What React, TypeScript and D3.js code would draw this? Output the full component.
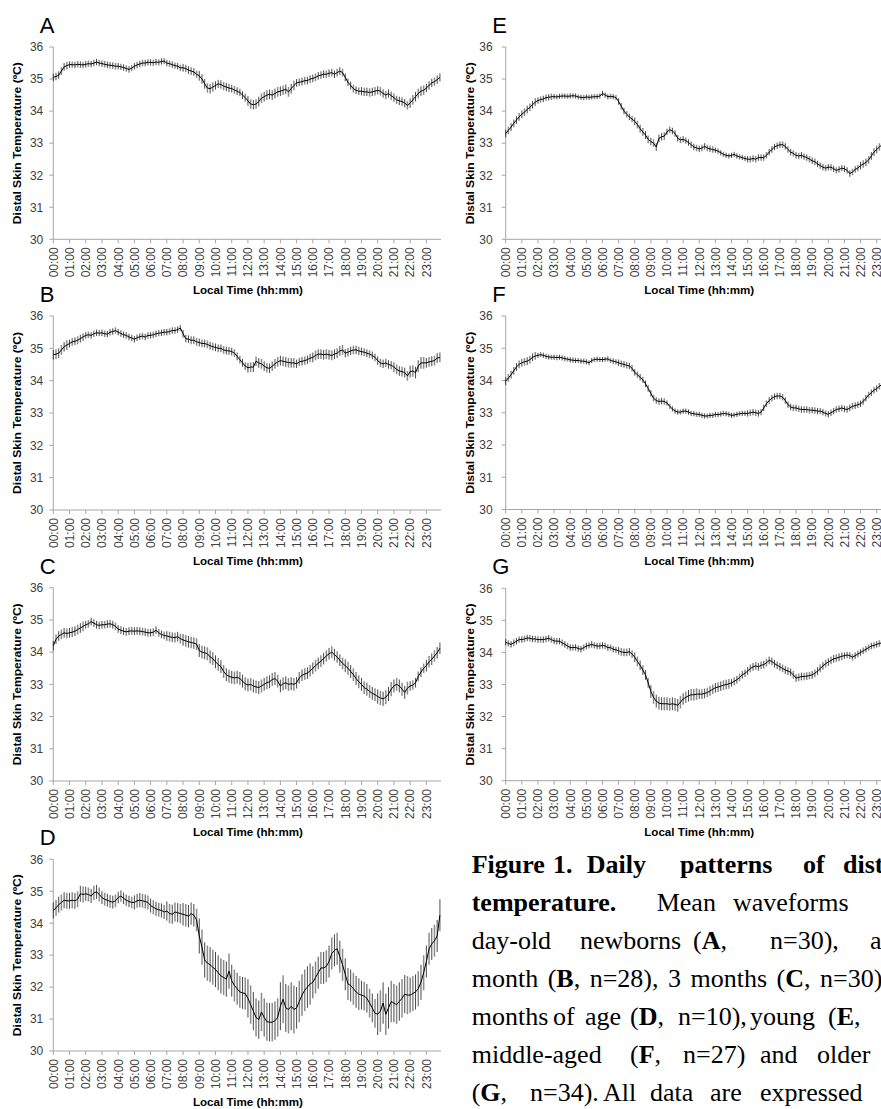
import React from 'react';
import * as d3 from 'd3';

// ---------- data ----------
const hourTickLabels = [
  '00:00','01:00','02:00','03:00','04:00','05:00','06:00','07:00','08:00','09:00','10:00','11:00',
  '12:00','13:00','14:00','15:00','16:00','17:00','18:00','19:00','20:00','21:00','22:00','23:00'
];
const yTickValues = [30, 31, 32, 33, 34, 35, 36];
const panelLetters = ['A', 'B', 'C', 'D', 'E', 'F', 'G'];
const yAxisTitle = 'Distal Skin Temperature (ºC)';
const xAxisTitle = 'Local Time (hh:mm)';

// mean temperature every 10 minutes (144 values per panel)
const meanA = [
  35.05,35.08,35.12,35.25,35.38,35.42, 35.45,35.45,35.44,35.46,35.45,35.44,
  35.46,35.48,35.47,35.50,35.53,35.50, 35.48,35.46,35.44,35.43,35.42,35.40,
  35.40,35.38,35.36,35.33,35.30,35.34, 35.40,35.44,35.47,35.50,35.50,35.52,
  35.52,35.51,35.53,35.52,35.55,35.56, 35.50,35.48,35.45,35.42,35.40,35.35,
  35.35,35.33,35.28,35.25,35.22,35.15, 35.10,35.00,34.85,34.72,34.70,34.75,
  34.80,34.85,34.83,34.78,34.75,34.72, 34.70,34.66,34.62,34.58,34.50,34.42,
  34.32,34.22,34.20,34.22,34.30,34.40, 34.45,34.50,34.52,34.50,34.55,34.60,
  34.62,34.65,34.68,34.60,34.70,34.80, 34.88,34.90,34.92,34.95,34.95,35.00,
  35.02,35.05,35.10,35.12,35.15,35.15, 35.18,35.20,35.15,35.20,35.25,35.20,
  35.05,34.90,34.80,34.70,34.65,34.62, 34.62,34.60,34.60,34.58,34.60,34.62,
  34.65,34.62,34.55,34.50,34.55,34.48, 34.42,34.35,34.32,34.30,34.25,34.18,
  34.25,34.35,34.45,34.55,34.62,34.65, 34.72,34.80,34.88,34.92,34.98,35.05
];
const meanB = [
  34.80,34.82,34.85,34.95,35.05,35.10, 35.15,35.20,35.22,35.25,35.30,35.35,
  35.40,35.42,35.40,35.45,35.48,35.47, 35.48,35.45,35.44,35.50,35.52,35.55,
  35.50,35.46,35.42,35.40,35.35,35.32, 35.28,35.33,35.36,35.38,35.35,35.40,
  35.40,35.42,35.45,35.47,35.48,35.50, 35.50,35.52,35.55,35.55,35.58,35.63,
  35.45,35.30,35.28,35.25,35.25,35.20, 35.18,35.15,35.15,35.12,35.08,35.05,
  35.03,35.00,35.00,34.95,34.93,34.92, 34.90,34.85,34.75,34.65,34.55,34.45,
  34.40,34.42,34.42,34.60,34.55,34.52, 34.45,34.40,34.38,34.45,34.52,34.58,
  34.62,34.60,34.58,34.56,34.55,34.55, 34.52,34.58,34.60,34.62,34.65,34.70,
  34.72,34.78,34.82,34.82,34.80,34.82, 34.80,34.78,34.82,34.85,34.92,34.95,
  34.85,34.88,34.92,34.95,34.95,34.92, 34.90,34.88,34.85,34.82,34.78,34.72,
  34.62,34.55,34.52,34.55,34.50,34.48, 34.42,34.35,34.30,34.28,34.25,34.15,
  34.28,34.30,34.25,34.45,34.55,34.55, 34.55,34.58,34.60,34.62,34.70,34.72
];
const meanC = [
  34.20,34.40,34.50,34.55,34.60,34.58, 34.60,34.62,34.65,34.70,34.75,34.80,
  34.85,34.88,34.95,34.90,34.85,34.83, 34.85,34.85,34.87,34.88,34.85,34.80,
  34.72,34.68,34.65,34.63,34.65,34.66, 34.65,34.66,34.65,34.64,34.62,34.60,
  34.60,34.62,34.68,34.60,34.55,34.52, 34.50,34.48,34.46,34.45,34.48,34.42,
  34.38,34.35,34.32,34.30,34.28,34.25, 34.05,34.00,33.98,33.95,33.85,33.80,
  33.70,33.62,33.55,33.40,33.30,33.25, 33.22,33.20,33.22,33.18,33.10,33.02,
  32.98,33.00,32.95,32.92,32.90,32.95, 33.00,33.05,33.08,33.15,33.18,33.10,
  32.95,33.02,33.05,33.00,33.02,33.00, 33.05,33.20,33.28,33.32,33.35,33.42,
  33.50,33.58,33.65,33.72,33.80,33.88, 33.95,34.00,33.92,33.85,33.75,33.65,
  33.58,33.50,33.40,33.30,33.18,33.08, 33.00,32.90,32.85,32.78,32.72,32.68,
  32.62,32.58,32.55,32.60,32.70,32.85, 32.95,33.00,32.95,32.85,32.75,32.88,
  32.95,32.98,33.05,33.25,33.38,33.50, 33.58,33.70,33.78,33.88,33.98,34.12
];
const meanD = [
  34.40,34.48,34.58,34.65,34.72,34.70, 34.70,34.72,34.70,34.75,34.92,34.90,
  34.92,34.90,34.85,34.95,34.98,34.90, 34.80,34.75,34.72,34.68,34.66,34.70,
  34.80,34.85,34.78,34.72,34.68,34.65, 34.65,34.70,34.72,34.70,34.68,34.65,
  34.55,34.50,34.45,34.42,34.40,34.35, 34.38,34.30,34.28,34.35,34.33,34.30,
  34.28,34.25,34.22,34.30,34.25,34.10, 33.60,33.25,32.85,32.75,32.70,32.62,
  32.55,32.45,32.35,32.30,32.25,32.50, 32.20,32.05,31.95,31.85,31.82,31.80,
  31.65,31.45,31.25,31.05,30.98,31.22, 31.05,30.92,30.90,30.90,30.95,31.05,
  31.40,31.62,31.35,31.30,31.40,31.30, 31.35,31.55,31.75,31.90,32.00,32.10,
  32.15,32.30,32.45,32.60,32.60,32.65, 32.80,33.05,33.15,33.20,32.95,32.70,
  32.40,32.10,32.05,31.95,31.85,31.78, 31.75,31.72,31.65,31.50,31.35,31.18,
  31.15,31.25,31.50,31.15,31.35,31.55, 31.50,31.45,31.55,31.65,31.78,31.75,
  31.75,31.80,31.85,31.95,32.15,32.45, 32.80,33.20,33.35,33.45,33.60,34.25
];
const meanE = [
  33.30,33.40,33.50,33.62,33.72,33.82, 33.90,33.97,34.05,34.12,34.20,34.28,
  34.33,34.36,34.38,34.42,34.43,34.45, 34.45,34.44,34.46,34.47,34.47,34.46,
  34.47,34.48,34.47,34.44,34.43,34.42, 34.44,34.43,34.44,34.45,34.45,34.47,
  34.55,34.50,34.45,34.46,34.45,34.42, 34.30,34.15,34.00,33.90,33.82,33.75,
  33.68,33.58,33.45,33.35,33.25,33.12, 33.05,33.00,32.88,33.15,33.20,33.22,
  33.35,33.42,33.38,33.30,33.15,33.10, 33.12,33.08,33.02,32.95,32.88,32.85,
  32.82,32.85,32.90,32.85,32.82,32.80, 32.78,32.75,32.70,32.65,32.62,32.60,
  32.62,32.65,32.60,32.57,32.55,32.52, 32.50,32.50,32.52,32.50,32.55,32.55,
  32.55,32.62,32.72,32.80,32.88,32.92, 32.95,32.95,32.90,32.80,32.72,32.68,
  32.62,32.60,32.62,32.58,32.55,32.50, 32.45,32.42,32.35,32.30,32.25,32.22,
  32.25,32.25,32.20,32.15,32.18,32.22, 32.20,32.15,32.05,32.10,32.18,32.22,
  32.30,32.35,32.40,32.48,32.60,32.72, 32.80,32.88,32.95,33.00,33.05,33.10
];
const meanF = [
  33.98,34.08,34.18,34.30,34.42,34.50, 34.55,34.58,34.60,34.65,34.72,34.76,
  34.78,34.80,34.78,34.75,34.73,34.72, 34.72,34.71,34.72,34.70,34.68,34.66,
  34.64,34.63,34.62,34.62,34.60,34.60, 34.58,34.55,34.62,34.65,34.66,34.65,
  34.65,34.66,34.67,34.62,34.60,34.58, 34.55,34.52,34.50,34.47,34.45,34.38,
  34.25,34.18,34.10,34.02,33.90,33.75, 33.60,33.45,33.38,33.35,33.36,33.35,
  33.30,33.20,33.12,33.05,33.02,33.02, 33.05,33.05,33.02,32.98,32.97,32.95,
  32.95,32.92,32.90,32.90,32.92,32.92, 32.95,32.94,32.96,32.98,32.97,32.95,
  32.92,32.93,32.95,32.97,32.98,32.98, 32.98,33.00,33.02,33.00,32.98,33.02,
  33.15,33.28,33.38,33.45,33.50,33.52, 33.52,33.48,33.38,33.25,33.18,33.15,
  33.15,33.12,33.10,33.10,33.10,33.08, 33.08,33.07,33.05,33.05,33.02,32.98,
  32.95,33.00,33.05,33.10,33.12,33.15, 33.12,33.10,33.15,33.20,33.22,33.25,
  33.28,33.35,33.45,33.55,33.62,33.70, 33.75,33.82,33.88,33.92,33.98,34.02
];
const meanG = [
  34.32,34.28,34.25,34.30,34.35,34.40, 34.40,34.42,34.45,34.44,34.42,34.42,
  34.40,34.40,34.40,34.42,34.44,34.40, 34.36,34.35,34.35,34.30,34.25,34.20,
  34.15,34.15,34.16,34.12,34.10,34.15, 34.20,34.22,34.25,34.22,34.20,34.20,
  34.22,34.20,34.15,34.15,34.10,34.08, 34.05,34.02,34.00,34.00,34.02,33.95,
  33.85,33.72,33.60,33.45,33.30,33.05, 32.78,32.60,32.48,32.42,32.40,32.40,
  32.40,32.38,32.40,32.38,32.35,32.45, 32.55,32.60,32.65,32.68,32.68,32.70,
  32.70,32.70,32.72,32.75,32.80,32.85, 32.90,32.92,32.95,32.98,33.00,33.02,
  33.05,33.10,33.15,33.22,33.30,33.35, 33.42,33.50,33.55,33.58,33.55,33.60,
  33.62,33.68,33.75,33.72,33.65,33.60, 33.55,33.50,33.45,33.42,33.38,33.30,
  33.20,33.22,33.25,33.25,33.26,33.28, 33.30,33.35,33.42,33.50,33.58,33.65,
  33.70,33.75,33.80,33.82,33.85,33.88, 33.90,33.92,33.90,33.85,33.90,33.95,
  34.00,34.05,34.10,34.15,34.20,34.22, 34.25,34.28,34.30,34.32,34.33,34.35
];

// standard error per hour (24 values per panel)
const seA = [0.12,0.10,0.10,0.10,0.10,0.10,0.10,0.10,0.12,0.15,0.13,0.12,0.15,0.15,0.15,0.12,0.12,0.12,0.12,0.13,0.13,0.13,0.15,0.13];
const seB = [0.15,0.12,0.10,0.10,0.10,0.10,0.10,0.10,0.12,0.12,0.12,0.12,0.15,0.15,0.15,0.13,0.15,0.15,0.13,0.12,0.13,0.15,0.18,0.15];
const seC = [0.15,0.15,0.12,0.12,0.12,0.12,0.12,0.15,0.18,0.20,0.20,0.20,0.20,0.20,0.20,0.18,0.18,0.18,0.20,0.20,0.22,0.20,0.15,0.18];
const seD = [0.25,0.25,0.22,0.20,0.18,0.22,0.22,0.30,0.35,0.55,0.55,0.50,0.60,0.60,0.75,0.65,0.50,0.50,0.50,0.45,0.65,0.60,0.55,0.50];
const seE = [0.12,0.12,0.10,0.08,0.08,0.08,0.08,0.10,0.12,0.12,0.10,0.10,0.10,0.08,0.08,0.10,0.10,0.10,0.10,0.10,0.10,0.10,0.12,0.12];
const seF = [0.12,0.12,0.08,0.08,0.08,0.08,0.08,0.10,0.10,0.10,0.08,0.08,0.08,0.08,0.08,0.10,0.10,0.10,0.10,0.10,0.10,0.10,0.10,0.10];
const seG = [0.10,0.10,0.10,0.10,0.10,0.10,0.10,0.12,0.15,0.20,0.20,0.18,0.15,0.15,0.12,0.12,0.12,0.12,0.12,0.12,0.12,0.10,0.10,0.10];

const allMeans = [meanA, meanB, meanC, meanD, meanE, meanF, meanG];
const allSE = [seA, seB, seC, seD, seE, seF, seG];

// caption: each line is a list of word groups; each group is a list of [text, bold] runs
type Run = [string, boolean];
const captionLines: Run[][][] = [
  [[['Figure', true]], [['1.', true]], [['Daily', true]], [['patterns', true]], [['of', true]], [['distal', true]]],
  [[['temperature.', true]], [['Mean', false]], [['waveforms', false]], [['of', false]]],
  [[['day-old', false]], [['newborns', false]], [['(', false], ['A', true], [',', false]], [['n=30),', false]], [['at', false]]],
  [[['month (', false], ['B', true], [', n=28), 3 months (', false], ['C', true], [', n=30)', false]]],
  [[['months', false]], [['of', false]], [['age', false]], [['(', false], ['D', true], [',', false]], [['n=10),', false]], [['young', false]], [['(', false], ['E', true], [',', false]]],
  [[['middle-aged', false]], [['(', false], ['F', true], [',', false]], [['n=27)', false]], [['and', false]], [['older', false]]],
  [[['(', false], ['G', true], [',', false]], [['n=34).', false]], [['All', false]], [['data', false]], [['are', false]], [['expressed', false]]],
];

// ---------- layout ----------
const panelLayout = [
  { x0: 53.3, hw: 16.22, top: 47, bot: 239.3, right: 441, lblGap: 10 },
  { x0: 53.3, hw: 16.22, top: 316, bot: 510, right: 441, lblGap: 10 },
  { x0: 53.3, hw: 16.22, top: 587.7, bot: 781, right: 441, lblGap: 10 },
  { x0: 53.3, hw: 16.22, top: 859.3, bot: 1051, right: 441, lblGap: 10 },
  { x0: 505.7, hw: 16.13, top: 47, bot: 239.3, right: 900, lblGap: 13 },
  { x0: 505.7, hw: 16.13, top: 316, bot: 509.5, right: 900, lblGap: 13 },
  { x0: 505.7, hw: 16.13, top: 588.3, bot: 780.7, right: 900, lblGap: 13 },
];
// x position of each word group per caption line
const captionX = [
  [471.7, 553, 586.7, 680, 803, 843],
  [471.7, 656.7, 733, 900],
  [471.7, 580, 693, 770, 870],
  [471.7],
  [471.7, 553, 585, 630, 678, 750, 828],
  [471.7, 630, 683, 760, 817],
  [471.7, 530, 603, 650, 710, 760],
];
const captionWordSpacing = [0, 0, 0, 3, 0, 0, 0];
const captionY = [873.3, 910.7, 949, 986.7, 1025, 1062.7, 1101];

const AXIS = '#a6a6a6';
const TXT = '#404040';
const FONT = '"Liberation Sans", Arial, sans-serif';

function Panel({ idx }: { idx: number }) {
  const L = panelLayout[idx];
  const mean = allMeans[idx];
  const se = allSE[idx];
  const x = d3.scaleLinear().domain([0, 144]).range([L.x0, L.x0 + 24 * L.hw]);
  const y = d3.scaleLinear().domain([30, 36]).range([L.bot, L.top]);
  const line = d3.line<number>().x((_, i) => x(i)).y((d) => y(d));
  const clipId = `clip${idx}`;
  const xEnd = L.x0 + 24 * L.hw;
  const midX = (L.x0 + xEnd) / 2;
  return (
    <g>
      <defs>
        <clipPath id={clipId}>
          <rect x={L.x0 - 30} y={L.top - 20} width={L.right - L.x0 + 30} height={L.bot - L.top + 90} />
        </clipPath>
      </defs>
      <text x={L.x0 - 13.5} y={L.top - 14} fontFamily={FONT} fontSize={22} fill="#000">{panelLetters[idx]}</text>
      {/* y axis */}
      <line x1={L.x0} x2={L.x0} y1={L.top} y2={L.bot} stroke={AXIS} strokeWidth={1} />
      {yTickValues.map((v) => (
        <g key={v}>
          <line x1={L.x0 - 4} x2={L.x0} y1={y(v)} y2={y(v)} stroke={AXIS} />
          <text x={L.x0 - L.lblGap} y={y(v)} dy="0.36em" textAnchor="end" fontFamily={FONT} fontSize={12} fill={TXT}>{v}</text>
        </g>
      ))}
      <text
        transform={`translate(${L.x0 - 35.5},${(L.top + L.bot) / 2}) rotate(-90)`}
        textAnchor="middle" dy="0.35em" fontFamily={FONT} fontWeight="bold" fontSize={10.5} fill="#000"
        textLength={162} lengthAdjust="spacingAndGlyphs"
      >{yAxisTitle}</text>
      <g clipPath={`url(#${clipId})`}>
        {/* x axis */}
        <line x1={L.x0} x2={xEnd} y1={L.bot} y2={L.bot} stroke={AXIS} />
        {d3.range(25).map((h) => (
          <line key={h} x1={x(h * 6)} x2={x(h * 6)} y1={L.bot} y2={L.bot + 4} stroke={AXIS} />
        ))}
        {hourTickLabels.map((lab, h) => (
          <text key={lab}
            transform={`translate(${x(h * 6)},${L.bot + 8}) rotate(-90)`}
            textAnchor="end" dy="0.36em" fontFamily={FONT} fontSize={12} fill={TXT}
          >{lab}</text>
        ))}
        {/* error bars */}
        {mean.map((m, i) => {
          const e = se[Math.floor(i / 6)];
          const dark = i % 2 === 0;
          return (
            <line key={i} x1={x(i)} x2={x(i)} y1={y(m - e)} y2={y(m + e)}
              stroke={dark ? '#1a1a1a' : '#8c8c8c'} strokeWidth={dark ? 0.8 : 1.5} />
          );
        })}
        <path d={line(mean) || ''} fill="none" stroke="#000" strokeWidth={1} />
      </g>
      <text x={midX} y={L.bot + 55} textAnchor="middle" fontFamily={FONT} fontWeight="bold" fontSize={10.5} fill="#000"
        textLength={110} lengthAdjust="spacingAndGlyphs">{xAxisTitle}</text>
    </g>
  );
}

function Caption() {
  return (
    <g fontFamily='"Liberation Serif", "Times New Roman", serif' fontSize={26} fill="#000">
      {captionLines.map((groups, li) => (
        <text key={li} y={captionY[li]} wordSpacing={captionWordSpacing[li]}>
          {groups.map((runs, gi) =>
            runs.map(([w, b], ri) => (
              <tspan key={`${gi}-${ri}`} x={ri === 0 ? captionX[li][gi] : undefined}
                fontWeight={b ? 'bold' : 'normal'}>{w}</tspan>
            ))
          )}
        </text>
      ))}
    </g>
  );
}

export default function App() {
  return (
    <svg width={881} height={1109} viewBox="0 0 881 1109"
      style={{ position: 'absolute', left: 0, top: 0, background: '#fff', display: 'block' }}>
      <rect x={0} y={0} width={881} height={1109} fill="#fff" />
      {panelLayout.map((_, i) => <Panel key={i} idx={i} />)}
      <Caption />
    </svg>
  );
}
